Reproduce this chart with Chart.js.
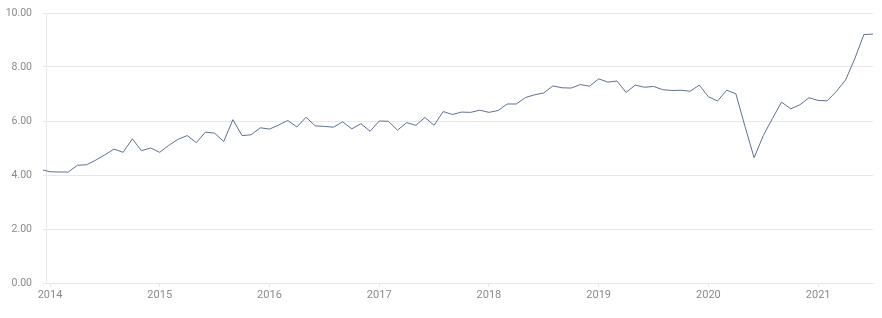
<!DOCTYPE html>
<html>
<head>
<meta charset="utf-8">
<script src="https://cdn.jsdelivr.net/npm/chart.js@4/dist/chart.umd.min.js"></script>
<style>
  html, body { margin: 0; padding: 0; background: #ffffff; }
  #wrap { width: 882px; height: 318px; position: relative; }
</style>
</head>
<body>
<div id="wrap"><canvas id="c" width="882" height="318"></canvas></div>
<script>
// First observation: December 2013, monthly through July 2021
const startYear = 2013;
const startMonth = 12; // December
const values = [
  4.21, // 2013-12
  4.12, 4.11, 4.11, 4.36, 4.38, 4.55, 4.75, 4.96, 4.84, 5.34, 4.90, 5.00,   // 2014
  4.84, 5.10, 5.32, 5.46, 5.20, 5.59, 5.55, 5.24, 6.05, 5.46, 5.49, 5.75,   // 2015
  5.70, 5.85, 6.02, 5.78, 6.14, 5.82, 5.80, 5.77, 5.97, 5.71, 5.90, 5.62,   // 2016
  6.00, 5.99, 5.66, 5.94, 5.84, 6.13, 5.84, 6.35, 6.24, 6.33, 6.32, 6.40,   // 2017
  6.32, 6.39, 6.63, 6.63, 6.87, 6.97, 7.04, 7.30, 7.23, 7.22, 7.35, 7.29,   // 2018
  7.56, 7.44, 7.48, 7.06, 7.33, 7.25, 7.28, 7.16, 7.13, 7.14, 7.10, 7.33,   // 2019
  6.90, 6.74, 7.14, 7.01, 5.80, 4.64, 5.46, 6.09, 6.70, 6.45, 6.60, 6.86,   // 2020
  6.76, 6.75, 7.10, 7.52, 8.30, 9.20, 9.22                                  // 2021
];
const yearTicks = [2014, 2015, 2016, 2017, 2018, 2019, 2020, 2021];
const yTicks = [0, 2, 4, 6, 8, 10];

// position of each month on a fractional-year axis
const points = values.map((v, i) => {
  const m = (startMonth - 1) + i;
  return { x: startYear + m / 12, y: v };
});

const textColor = '#8a8a8a';
const gridColor = '#e8e8e8';

new Chart(document.getElementById('c'), {
  type: 'line',
  data: {
    datasets: [{
      data: points,
      borderColor: '#5f7190',
      borderWidth: 1,
      pointRadius: 0,
      pointHoverRadius: 0,
      tension: 0,
      fill: false,
      clip: { left: 3, top: false, right: false, bottom: false }
    }]
  },
  options: {
    responsive: false,
    animation: false,
    events: [],
    layout: { padding: { top: 13, right: 9, left: 0, bottom: 0 } },
    plugins: { legend: { display: false }, tooltip: { enabled: false } },
    scales: {
      x: {
        type: 'linear',
        min: 2013.9635,
        max: 2021.5,
        afterBuildTicks: (s) => { s.ticks = yearTicks.map(v => ({ value: v })); },
        afterFit: (s) => { s.height = 35; s.paddingLeft = 0; s.paddingRight = 0; },
        ticks: {
          color: textColor,
          font: { family: 'Roboto', size: 11 },
          padding: 2,
          maxRotation: 0,
          autoSkip: false,
          callback: (v) => String(v)
        },
        grid: { display: true, drawOnChartArea: false, drawTicks: true, tickLength: 4, color: gridColor },
        border: { display: true, color: gridColor }
      },
      y: {
        min: 0,
        max: 10,
        afterBuildTicks: (s) => { s.ticks = yTicks.map(v => ({ value: v })); },
        afterFit: (s) => { s.width = 46; s.paddingTop = 0; s.paddingBottom = 0; },
        ticks: {
          color: textColor,
          font: { family: 'Roboto', size: 10.5 },
          padding: 11,
          callback: (v) => Number(v).toFixed(2)
        },
        grid: { color: gridColor, tickLength: 3, drawTicks: true },
        border: { display: true, color: gridColor }
      }
    }
  }
});
</script>
</body>
</html>
